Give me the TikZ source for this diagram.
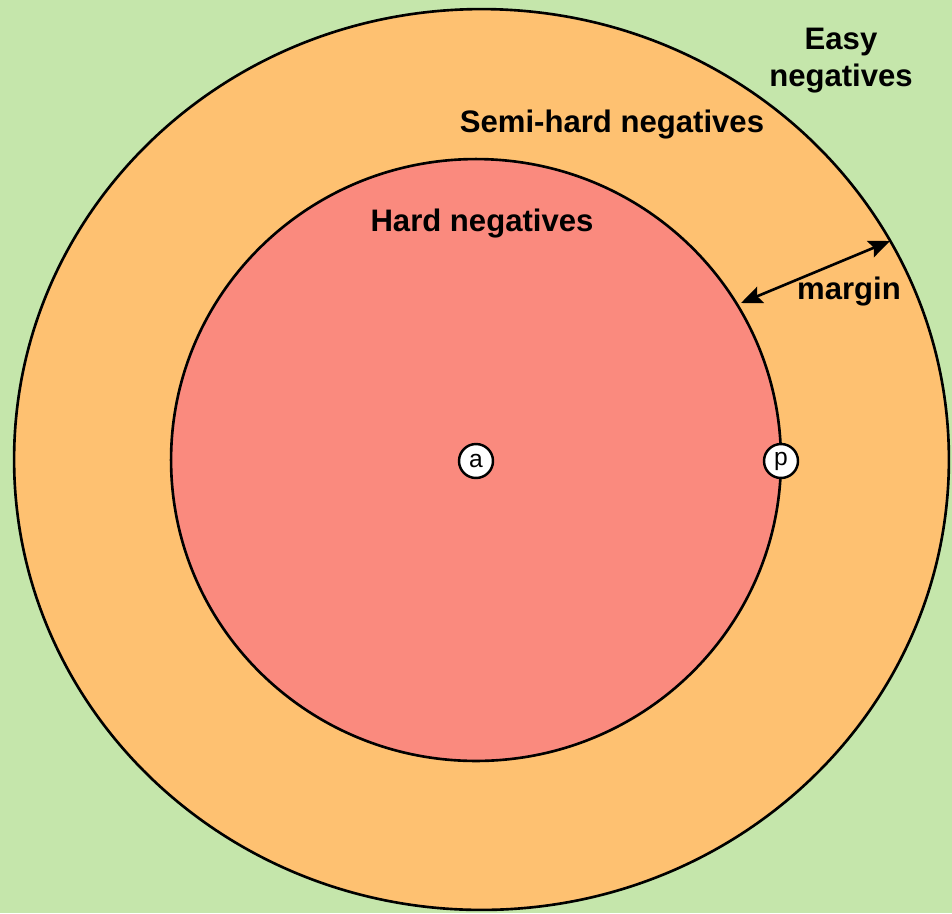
\documentclass[tikz,border=0pt]{standalone}
\usepackage{fontspec}
\setmainfont{Liberation Sans}
\usetikzlibrary{arrows.meta,positioning}

\definecolor{easygreen}{RGB}{197,230,171}
\definecolor{semiorange}{RGB}{254,193,113}
\definecolor{hardred}{RGB}{250,138,126}

\begin{document}
\begin{tikzpicture}[
    x=0.02cm, y=-0.02cm,
    zone/.style={draw=black, line width=1.5pt},
    sample/.style={draw=black, line width=1.4pt, fill=white, circle, inner sep=0pt,
        minimum size=0.68cm, font=\fontsize{14}{16}\selectfont},
    label/.style={font=\bfseries\fontsize{17.7}{20}\selectfont, align=center},
    arrow/.style={{Stealth[length=12pt,width=10pt,inset=2pt]}-{Stealth[length=12pt,width=10pt,inset=2pt]}, line width=1.5pt}
]

% Background
\useasboundingbox (0,0) rectangle (952,913);
\fill[easygreen] (0,0) rectangle (952,913);

% Regions
\draw[zone, fill=semiorange] (481.5,459.5) ellipse [x radius=9.35cm, y radius=9.01cm];
\draw[zone, fill=hardred] (476,460) ellipse [x radius=6.1cm, y radius=6.02cm];

% Anchor and positive
\node[sample] (a) at (476,461) {a};
\node[sample] (p) at (781,461) {p};

% Labels
\node[label] (hard) at (482,224) {Hard negatives};
\node[label] (semi) at (612,125) {Semi-hard negatives};
\node[label] (easy) at (841,61) {Easy\\[1pt]negatives};

% Margin
\coordinate (m1) at (741,303);
\coordinate (m2) at (890,241);
\draw[arrow] (m1) -- (m2);
\node[label] (margin) at (849,292) {margin};

\end{tikzpicture}
\end{document}
